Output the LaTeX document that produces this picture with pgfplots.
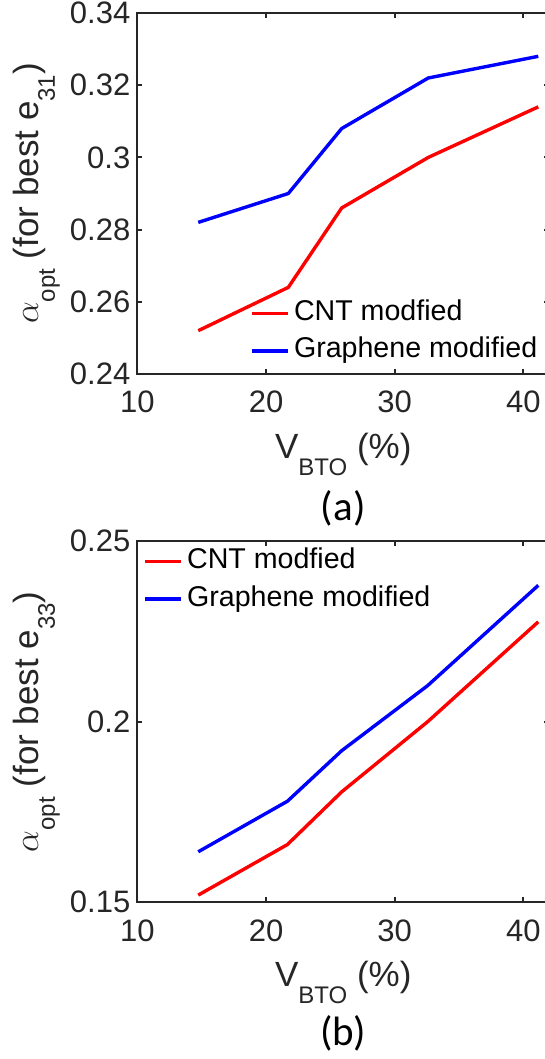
\documentclass[border=0pt]{standalone}
\usepackage{fontspec}
\setmainfont{Liberation Sans}
\newfontfamily\carlito{Carlito}
\usepackage{pgfplots}
\pgfplotsset{compat=1.18}
\definecolor{axgray}{HTML}{262626}
\definecolor{mred}{HTML}{FF0000}
\definecolor{mblue}{HTML}{0000FF}
\pgfplotsset{
 mystyle/.style={
  scale only axis, width=205.85pt, height=180.5pt,
  xmin=10, xmax=42, xtick={10,20,30,40},
  tick align=inside, xtick pos=both, ytick pos=both,
  major tick length=2.5pt,
  axis line style={axgray, line width=0.9pt},
  every tick/.style={axgray, line width=0.9pt},
  tick label style={font=\fontsize{15.5}{18}\selectfont, text=axgray},
  /pgf/number format/assume math mode=true,
  yticklabel style={/pgf/number format/fixed, /pgf/number format/precision=2},
  xticklabel style={yshift=-5pt},
  label style={font=\fontsize{17.5}{21}\selectfont, text=axgray},
  xlabel style={at={(axis description cs:0.5,-0.2338)}, anchor=base},
  ylabel style={at={(axis description cs:-0.2414,0.5)}, anchor=base},
  xlabel={V\raisebox{-0.48em}{\fontsize{12}{14}\selectfont BTO} (\%)},
  legend cell align=left,
  legend image code/.code={\draw[##1, line width=1.7pt] (0pt,0pt) -- (18.3pt,0pt);},
  legend style={draw=none, fill=none, inner sep=0pt, outer sep=0pt,
    font=\fontsize{14.3}{16}\selectfont, row sep=5.8pt, column sep=2pt,
    nodes={inner sep=0pt, text height=10pt, text depth=3pt}},
 }
}
\begin{document}
\begin{tikzpicture}
\path[use as bounding box] (0pt,0pt) rectangle (272.5pt,-529.5pt);
\begin{axis}[mystyle, at={(68.7pt,-187pt)}, anchor=south west,
  ymin=0.24, ymax=0.34, ytick={0.24,0.26,0.28,0.3,0.32,0.34},
  ylabel={$\alpha$\raisebox{-0.48em}{\fontsize{12}{14}\selectfont opt} (for best e\raisebox{-0.48em}{\fontsize{12}{14}\selectfont 31})},
  legend style={at={(axis description cs:0.2735,0.1158)}, anchor=west}]
\addplot[mred, line width=1.7pt] coordinates {(14.73,0.252) (21.73,0.264) (25.88,0.286) (32.61,0.300) (41.16,0.314)};
\addlegendentry{CNT modfied}
\addplot[mblue, line width=1.7pt] coordinates {(14.73,0.282) (21.73,0.290) (25.88,0.308) (32.61,0.322) (41.16,0.328)};
\addlegendentry{Graphene modified}
\end{axis}
\begin{axis}[mystyle, at={(68.7pt,-451.15pt)}, anchor=south west,
  ymin=0.15, ymax=0.25, ytick={0.15,0.2,0.25},
  ylabel={$\alpha$\raisebox{-0.48em}{\fontsize{12}{14}\selectfont opt} (for best e\raisebox{-0.48em}{\fontsize{12}{14}\selectfont 33})},
  legend style={at={(axis description cs:0.014,0.892)}, anchor=west}]
\addplot[mred, line width=1.7pt] coordinates {(14.73,0.152) (21.66,0.166) (25.88,0.1806) (32.55,0.200) (41.16,0.2277)};
\addlegendentry{CNT modfied}
\addplot[mblue, line width=1.7pt] coordinates {(14.73,0.164) (21.66,0.178) (25.88,0.192) (32.55,0.210) (41.16,0.2378)};
\addlegendentry{Graphene modified}
\end{axis}
\node[font=\carlito\fontsize{20.5}{24}\selectfont, text=black] at (171.6pt,-254.3pt) {(a)};
\node[font=\carlito\fontsize{20.5}{24}\selectfont, text=black] at (171.6pt,-516.7pt) {(b)};
\end{tikzpicture}
\end{document}
